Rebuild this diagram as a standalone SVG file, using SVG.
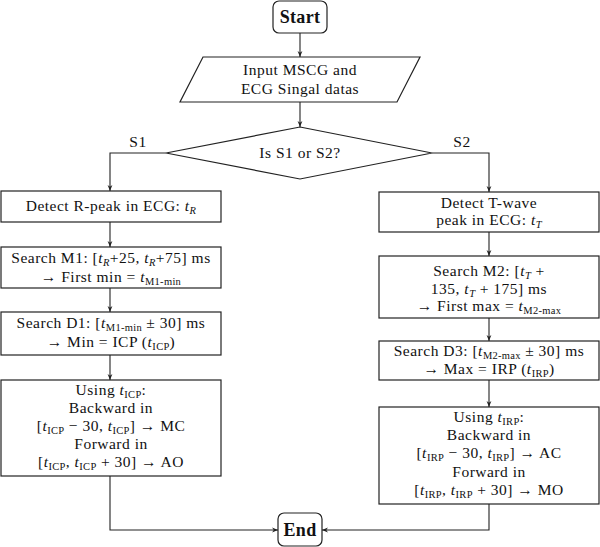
<svg xmlns="http://www.w3.org/2000/svg" width="600" height="547" viewBox="0 0 600 547">
  <style>
    .box { fill: #fff; stroke: #222; stroke-width: 1.2; }
    .edge { fill: none; stroke: #222; stroke-width: 1.1; }
    text { font-family: "Liberation Serif", "DejaVu Serif", serif; font-size: 15.5px; letter-spacing: 0.5px; fill: #111; text-anchor: middle; }
    .bold { font-weight: bold; font-size: 18px; letter-spacing: 0.3px; }
    .it { font-style: italic; }
    .sb { font-size: 10.5px; letter-spacing: 0.3px; }
  </style>
  <defs>
    <marker id="arr" viewBox="0 0 10 10" refX="10" refY="5" markerWidth="6" markerHeight="6" orient="auto" markerUnits="userSpaceOnUse">
      <path d="M0,1 L10,5 L0,9 L3,5 Z" fill="#222"/>
    </marker>
  </defs>

  <!-- connectors -->
  <g id="connectors">
    <path class="edge" d="M300,33 V57" marker-end="url(#arr)"/>
    <path class="edge" d="M300,102 V127" marker-end="url(#arr)"/>
    <path class="edge" d="M166,153 H110 V191" marker-end="url(#arr)"/>
    <path class="edge" d="M432,153 H489 V192" marker-end="url(#arr)"/>
    <path class="edge" d="M110,222 V247" marker-end="url(#arr)"/>
    <path class="edge" d="M110,288 V312" marker-end="url(#arr)"/>
    <path class="edge" d="M110,355 V380" marker-end="url(#arr)"/>
    <path class="edge" d="M489,232 V256" marker-end="url(#arr)"/>
    <path class="edge" d="M489,318 V341" marker-end="url(#arr)"/>
    <path class="edge" d="M489,380 V407" marker-end="url(#arr)"/>
    <path class="edge" d="M110,476 V530 H278" marker-end="url(#arr)"/>
    <path class="edge" d="M489,504 V530 H322" marker-end="url(#arr)"/>
    <text x="138" y="147">S1</text>
    <text x="462" y="147">S2</text>
  </g>

  <g id="start">
    <rect class="box" x="273" y="1" width="54" height="32" rx="6"/>
    <text class="bold" x="300" y="23">Start</text>
  </g>

  <g id="input">
    <polygon class="box" points="203,57 420,57 397,102 180,102"/>
    <text x="300" y="75">Input MSCG and</text>
    <text x="300" y="94">ECG Singal datas</text>
  </g>

  <g id="decision">
    <polygon class="box" points="300,127 432,153 300,179 166,153"/>
    <text x="300" y="158">Is S1 or S2?</text>
  </g>

  <g id="detect-r">
    <rect class="box" x="1" y="191" width="220" height="31"/>
    <text x="111" y="211">Detect R-peak in ECG: <tspan class="it">t</tspan><tspan class="sb it" dy="2.5">R</tspan></text>
  </g>

  <g id="search-m1">
    <rect class="box" x="1" y="247" width="220" height="41"/>
    <text x="111" y="263">Search M1: [<tspan class="it">t</tspan><tspan class="sb it" dy="2.5">R</tspan><tspan dy="-2.5">+25, </tspan><tspan class="it">t</tspan><tspan class="sb it" dy="2.5">R</tspan><tspan dy="-2.5">+75] ms</tspan></text>
    <text x="111" y="282">→ First min = <tspan class="it">t</tspan><tspan class="sb" dy="2.5">M1-min</tspan></text>
  </g>

  <g id="search-d1">
    <rect class="box" x="1" y="312" width="220" height="43"/>
    <text x="111" y="328">Search D1: [<tspan class="it">t</tspan><tspan class="sb" dy="2.5">M1-min</tspan><tspan dy="-2.5"> ± 30] ms</tspan></text>
    <text x="111" y="347">→ Min = ICP (<tspan class="it">t</tspan><tspan class="sb" dy="2.5">ICP</tspan><tspan dy="-2.5">)</tspan></text>
  </g>

  <g id="using-icp">
    <rect class="box" x="1" y="380" width="220" height="96"/>
    <text x="111" y="395">Using <tspan class="it">t</tspan><tspan class="sb" dy="2.5">ICP</tspan><tspan dy="-2.5">:</tspan></text>
    <text x="111" y="413">Backward in</text>
    <text x="111" y="431">[<tspan class="it">t</tspan><tspan class="sb" dy="2.5">ICP</tspan><tspan dy="-2.5"> − 30, </tspan><tspan class="it">t</tspan><tspan class="sb" dy="2.5">ICP</tspan><tspan dy="-2.5">] → MC</tspan></text>
    <text x="111" y="449">Forward in</text>
    <text x="111" y="467">[<tspan class="it">t</tspan><tspan class="sb" dy="2.5">ICP</tspan><tspan dy="-2.5">, </tspan><tspan class="it">t</tspan><tspan class="sb" dy="2.5">ICP</tspan><tspan dy="-2.5"> + 30] → AO</tspan></text>
  </g>

  <g id="detect-t">
    <rect class="box" x="379" y="192" width="220" height="40"/>
    <text x="489" y="208">Detect T-wave</text>
    <text x="489" y="225">peak in ECG: <tspan class="it">t</tspan><tspan class="sb it" dy="2.5">T</tspan></text>
  </g>

  <g id="search-m2">
    <rect class="box" x="379" y="256" width="220" height="62"/>
    <text x="489" y="276">Search M2: [<tspan class="it">t</tspan><tspan class="sb it" dy="2.5">T</tspan><tspan dy="-2.5"> +</tspan></text>
    <text x="489" y="294">135, <tspan class="it">t</tspan><tspan class="sb it" dy="2.5">T</tspan><tspan dy="-2.5"> + 175] ms</tspan></text>
    <text x="489" y="311">→ First max = <tspan class="it">t</tspan><tspan class="sb" dy="2.5">M2-max</tspan></text>
  </g>

  <g id="search-d3">
    <rect class="box" x="379" y="341" width="220" height="39"/>
    <text x="489" y="356">Search D3: [<tspan class="it">t</tspan><tspan class="sb" dy="2.5">M2-max</tspan><tspan dy="-2.5"> ± 30] ms</tspan></text>
    <text x="489" y="374">→ Max = IRP (<tspan class="it">t</tspan><tspan class="sb" dy="2.5">IRP</tspan><tspan dy="-2.5">)</tspan></text>
  </g>

  <g id="using-irp">
    <rect class="box" x="379" y="407" width="220" height="97"/>
    <text x="489" y="422">Using <tspan class="it">t</tspan><tspan class="sb" dy="2.5">IRP</tspan><tspan dy="-2.5">:</tspan></text>
    <text x="489" y="440">Backward in</text>
    <text x="489" y="458">[<tspan class="it">t</tspan><tspan class="sb" dy="2.5">IRP</tspan><tspan dy="-2.5"> − 30, </tspan><tspan class="it">t</tspan><tspan class="sb" dy="2.5">IRP</tspan><tspan dy="-2.5">] → AC</tspan></text>
    <text x="489" y="477">Forward in</text>
    <text x="489" y="495">[<tspan class="it">t</tspan><tspan class="sb" dy="2.5">IRP</tspan><tspan dy="-2.5">, </tspan><tspan class="it">t</tspan><tspan class="sb" dy="2.5">IRP</tspan><tspan dy="-2.5"> + 30] → MO</tspan></text>
  </g>

  <g id="end">
    <rect class="box" x="278" y="513" width="44" height="33" rx="6"/>
    <text class="bold" x="300" y="536">End</text>
  </g>
</svg>
